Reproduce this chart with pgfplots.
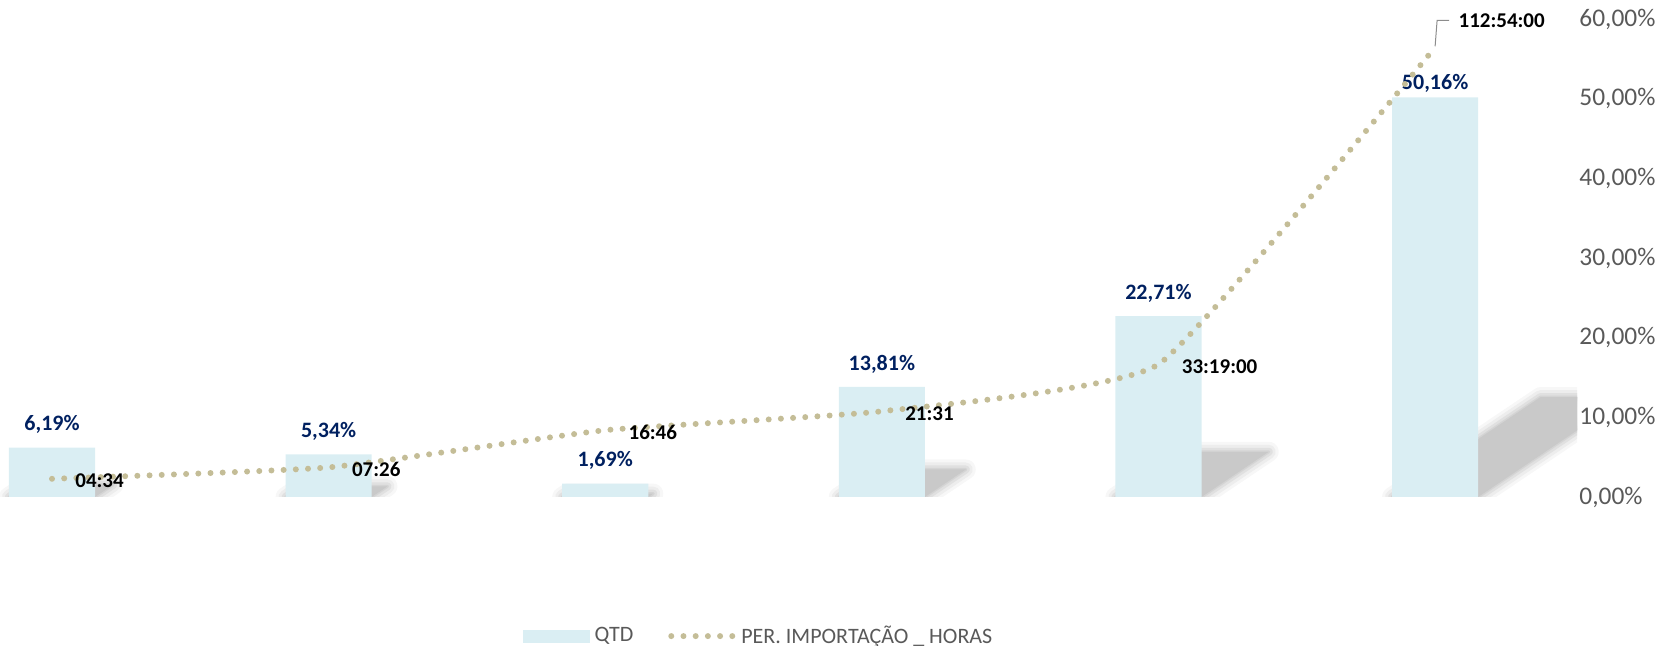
\documentclass[border=0pt]{standalone}
\usepackage{fontspec}
\setmainfont{Carlito}
\usepackage{pgfplots}
\pgfplotsset{compat=1.18}
\definecolor{barblue}{HTML}{DAEEF3}
\definecolor{dottan}{HTML}{C4BD97}
\definecolor{navy}{HTML}{002060}
\definecolor{tickgray}{HTML}{595959}
\tikzset{dotline/.style={color=dottan, line width=3pt, line cap=round, dash pattern=on 0pt off 6.1pt}}
\newcommand\lastlab{\raisebox{-7.8pt}[0pt][0pt]{50,16\%}}
\newcommand\shadowpoly[1]{%
  \addplot[forget plot, draw=black!3, fill=black!3, line width=10pt, line join=round] coordinates {#1} --cycle;
  \addplot[forget plot, draw=black!7, fill=black!7, line width=7pt, line join=round] coordinates {#1} --cycle;
  \addplot[forget plot, draw=black!12, fill=black!12, line width=4pt, line join=round] coordinates {#1} --cycle;
  \addplot[forget plot, draw=black!17, fill=black!17, line width=1.5pt, line join=round] coordinates {#1} --cycle;
  \addplot[forget plot, draw=none, fill=black!21] coordinates {#1} --cycle;
}
\begin{document}
\begin{tikzpicture}
\useasboundingbox (0,0) rectangle (836.5pt,323pt);
% bars (QTD) on the right axis
\begin{axis}[
  at={(0pt,74.5pt)}, anchor=south west,
  scale only axis, width=788.5pt, height=239pt,
  xmin=-0.188, xmax=5.513,
  ymin=0, ymax=60,
  hide x axis,
  axis y line*=right,
  y axis line style={draw=none},
  ytick={0,10,20,30,40,50,60},
  yticklabels={0{,}00\%,10{,}00\%,20{,}00\%,30{,}00\%,40{,}00\%,50{,}00\%,60{,}00\%},
  ytick style={draw=none},
  yticklabel style={anchor=west, inner sep=0pt, xshift=1pt, text=tickgray, font=\fontsize{12.7}{14}\selectfont},
]
\shadowpoly{(0.1555,0) (0.2217,1.5475) (-0.0893,1.5475) (-0.1555,0)}
\shadowpoly{(1.1555,0) (1.2126,1.335) (0.9000,1.335) (0.8445,0)}
\shadowpoly{(2.1555,0) (2.1736,0.4225) (1.8626,0.4225) (1.8445,0)}
\shadowpoly{(3.1555,0) (3.3033,3.4525) (2.9923,3.4525) (2.8445,0)}
\shadowpoly{(4.1555,0) (4.3985,5.6775) (4.0875,5.6775) (3.8445,0)}
\shadowpoly{(5.1555,0) (5.6922,12.54) (5.3812,12.54) (4.8445,0)}
\addplot[ybar, bar width=0.311, fill=barblue, draw=none,
  point meta=explicit symbolic,
  nodes near coords,
  every node near coord/.append style={anchor=center, yshift=11.5pt, text=navy, font=\fontsize{11}{12}\selectfont\bfseries},
] coordinates {
  (0,6.19) [6,19\%]
  (1,5.34) [5,34\%]
  (2,1.69) [1,69\%]
  (3,13.81) [13,81\%]
  (4,22.71) [22,71\%]
  (5,50.16) [\lastlab]
};
\end{axis}
% line (PER. IMPORTACAO _ HORAS) on a hidden axis in hours
\begin{axis}[
  at={(0pt,74.5pt)}, anchor=south west,
  scale only axis, width=788.5pt, height=239pt,
  xmin=-0.188, xmax=5.513,
  ymin=0, ymax=120,
  hide axis, clip=false,
  legend columns=2,
  legend style={at={(0.482,-0.291)}, anchor=center, draw=none, fill=none,
    font=\fontsize{11}{13}\selectfont, text=tickgray,
    /tikz/every even column/.append style={column sep=15pt},
    nodes={inner sep=2.5pt}},
]
\addlegendimage{legend image code/.code={\fill[barblue] (0pt,-3pt) rectangle (33pt,3pt);}}
\addlegendentry{QTD}
\addplot[dotline, smooth, tension=0.25,
  legend image code/.code={\draw[dotline] (0pt,0pt) -- (31pt,0pt);}]
  coordinates {(0,4.567) (1,7.433) (2,16.767) (3,21.517) (4,33.317) (5,112.9)};
\addlegendentry{PER. IMPORTAÇÃO \_ HORAS}
\addplot[draw=none, forget plot,
  point meta=explicit symbolic,
  nodes near coords,
  every node near coord/.append style={anchor=west, inner sep=0pt, xshift=11.5pt, yshift=-1pt, text=black, font=\fontsize{10.5}{12}\selectfont\bfseries},
] coordinates {
  (0,4.567) [04:34]
  (1,7.433) [07:26]
  (2,16.767) [16:46]
  (3,21.517) [21:31]
  (4,33.317) [33:19:00]
};
\draw[black!45, line width=0.5pt] (axis cs:5,112.9) ++(0pt,0.5pt) -- ++(1pt,13pt) -- ++(6pt,0pt)
  node[anchor=west, inner sep=0pt, xshift=4.5pt, text=black, font=\fontsize{10.5}{12}\selectfont\bfseries] {112:54:00};
\end{axis}
\end{tikzpicture}
\end{document}
